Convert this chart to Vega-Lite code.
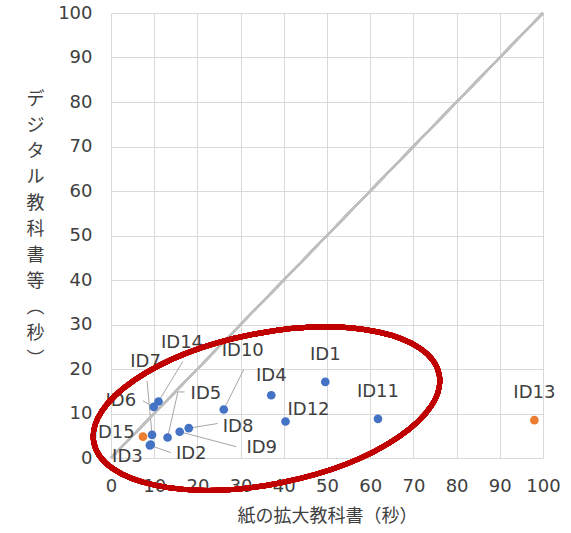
{
  "$schema": "https://vega.github.io/schema/vega-lite/v6.json",
  "width": 432,
  "height": 445,
  "autosize": {"type": "none"},
  "padding": {"left": 111, "top": 13, "right": 28, "bottom": 75},
  "background": "white",
  "config": {
    "view": {"stroke": null},
    "font": "DejaVu Sans, Noto Sans CJK JP",
    "axis": {
      "grid": true,
      "gridColor": "#D9D9D9",
      "gridWidth": 1,
      "domain": false,
      "ticks": false,
      "tickSize": 0,
      "labelFlush": false,
      "labelOverlap": false,
      "labelFont": "DejaVu Sans, Noto Sans CJK JP",
      "labelFontSize": 18,
      "labelColor": "#404040",
      "titleFont": "DejaVu Sans, Noto Sans CJK JP",
      "titleFontSize": 18,
      "titleColor": "#404040",
      "titleFontWeight": "normal"
    },
    "text": {"font": "DejaVu Sans, Noto Sans CJK JP", "fontSize": 18, "color": "#404040", "baseline": "middle"}
  },
  "data": {
    "values": [
      {"id": "ID1", "paper": 49.6, "digital": 17.1, "series": "A"},
      {"id": "ID2", "paper": 9.0, "digital": 2.85, "series": "A"},
      {"id": "ID3", "paper": 9.2, "digital": 3.0, "series": "A"},
      {"id": "ID4", "paper": 37.1, "digital": 14.1, "series": "A"},
      {"id": "ID5", "paper": 13.1, "digital": 4.6, "series": "A"},
      {"id": "ID6", "paper": 9.9, "digital": 11.5, "series": "A"},
      {"id": "ID7", "paper": 9.5, "digital": 5.2, "series": "A"},
      {"id": "ID8", "paper": 18.0, "digital": 6.7, "series": "A"},
      {"id": "ID9", "paper": 15.9, "digital": 5.9, "series": "A"},
      {"id": "ID10", "paper": 26.1, "digital": 10.9, "series": "A"},
      {"id": "ID11", "paper": 61.8, "digital": 8.8, "series": "A"},
      {"id": "ID12", "paper": 40.4, "digital": 8.2, "series": "A"},
      {"id": "ID13", "paper": 98.0, "digital": 8.5, "series": "B"},
      {"id": "ID14", "paper": 11.0, "digital": 12.7, "series": "A"},
      {"id": "ID15", "paper": 7.4, "digital": 4.8, "series": "B"}
    ]
  },
  "encoding": {
    "x": {
      "field": "paper", "type": "quantitative",
      "scale": {"domain": [0, 100], "nice": false},
      "axis": {"values": [0,10,20,30,40,50,60,70,80,90,100], "labelPadding": 19, "title": "紙の拡大教科書（秒）", "titlePadding": 12}
    },
    "y": {
      "field": "digital", "type": "quantitative",
      "scale": {"domain": [0, 100], "nice": false},
      "axis": {
        "values": [0,10,20,30,40,50,60,70,80,90,100],
        "labelPadding": 19,
        "title": ["デ","ジ","タ","ル","教","科","書","等","︵","秒","︶"],
        "titleAngle": 0,
        "titleAlign": "center",
        "titleBaseline": "middle",
        "titleLineHeight": 26,
        "titleX": -76,
        "titleY": 86
      }
    }
  },
  "layer": [
    {"transform": [{"filter": "datum.id === 'ID10'"}], "mark": {"type": "rule", "color": "#A6A6A6", "strokeWidth": 1, "x2Offset": 20, "y2Offset": -40}, "encoding": {"x2": {"field": "paper"}, "y2": {"field": "digital"}}},
    {"transform": [{"filter": "datum.id === 'ID8'"}], "mark": {"type": "rule", "color": "#A6A6A6", "strokeWidth": 1, "x2Offset": 29, "y2Offset": -4.7}, "encoding": {"x2": {"field": "paper"}, "y2": {"field": "digital"}}},
    {"transform": [{"filter": "datum.id === 'ID9'"}], "mark": {"type": "rule", "color": "#A6A6A6", "strokeWidth": 1, "x2Offset": 56.7, "y2Offset": 15}, "encoding": {"x2": {"field": "paper"}, "y2": {"field": "digital"}}},
    {"transform": [{"filter": "datum.id === 'ID2'"}], "mark": {"type": "rule", "color": "#A6A6A6", "strokeWidth": 1, "x2Offset": 21, "y2Offset": 7.3}, "encoding": {"x2": {"field": "paper"}, "y2": {"field": "digital"}}},
    {"transform": [{"filter": "datum.id === 'ID5'"}], "mark": {"type": "rule", "color": "#A6A6A6", "strokeWidth": 1, "x2Offset": 10.3, "y2Offset": -45.6}, "encoding": {"x2": {"field": "paper"}, "y2": {"field": "digital"}}},
    {"transform": [{"filter": "datum.id === 'ID5'"}], "mark": {"type": "rule", "color": "#A6A6A6", "strokeWidth": 1, "xOffset": 10.3, "yOffset": -45.6, "x2Offset": 17, "y2Offset": -45.6}, "encoding": {"x2": {"field": "paper"}, "y2": {"field": "digital"}}},
    {"transform": [{"filter": "datum.id === 'ID6'"}], "mark": {"type": "rule", "color": "#A6A6A6", "strokeWidth": 1, "x2Offset": -11, "y2Offset": -6}, "encoding": {"x2": {"field": "paper"}, "y2": {"field": "digital"}}},
    {"transform": [{"filter": "datum.id === 'ID7'"}], "mark": {"type": "rule", "color": "#A6A6A6", "strokeWidth": 1, "x2Offset": -5, "y2Offset": -54}, "encoding": {"x2": {"field": "paper"}, "y2": {"field": "digital"}}},
    {"transform": [{"filter": "datum.id === 'ID14'"}], "mark": {"type": "rule", "color": "#A6A6A6", "strokeWidth": 1, "x2Offset": 24.3, "y2Offset": -40}, "encoding": {"x2": {"field": "paper"}, "y2": {"field": "digital"}}},
    {
      "mark": {"type": "rule", "color": "#BFBFBF", "strokeWidth": 2},
      "encoding": {"x": {"datum": 0}, "y": {"datum": 0}, "x2": {"datum": 100}, "y2": {"datum": 100}}
    },
    {
      "mark": {"type": "circle", "size": 75, "opacity": 1},
      "encoding": {
        "color": {"field": "series", "type": "nominal", "scale": {"domain": ["A", "B"], "range": ["#4472C4", "#ED7D31"]}, "legend": null}
      }
    },
    {"transform": [{"filter": "datum.id === 'ID1' || datum.id === 'ID11' || datum.id === 'ID13'"}], "mark": {"type": "text", "align": "center", "dy": -27}, "encoding": {"text": {"field": "id"}}},
    {"transform": [{"filter": "datum.id === 'ID4'"}], "mark": {"type": "text", "align": "center", "dy": -19}, "encoding": {"text": {"field": "id"}}},
    {"transform": [{"filter": "datum.id === 'ID12'"}], "mark": {"type": "text", "align": "center", "dx": 23, "dy": -12}, "encoding": {"text": {"field": "id"}}},
    {"transform": [{"filter": "datum.id === 'ID10'"}], "mark": {"type": "text", "align": "center", "dx": 19, "dy": -58}, "encoding": {"text": {"field": "id"}}},
    {"transform": [{"filter": "datum.id === 'ID14'"}], "mark": {"type": "text", "align": "center", "dx": 23.5, "dy": -58.4}, "encoding": {"text": {"field": "id"}}},
    {"transform": [{"filter": "datum.id === 'ID7'"}], "mark": {"type": "text", "align": "center", "dx": -6.5, "dy": -72.6}, "encoding": {"text": {"field": "id"}}},
    {"transform": [{"filter": "datum.id === 'ID5'"}], "mark": {"type": "text", "align": "left", "dx": 23, "dy": -43.3}, "encoding": {"text": {"field": "id"}}},
    {"transform": [{"filter": "datum.id === 'ID8'"}], "mark": {"type": "text", "align": "left", "dx": 34, "dy": -1.3}, "encoding": {"text": {"field": "id"}}},
    {"transform": [{"filter": "datum.id === 'ID9'"}], "mark": {"type": "text", "align": "left", "dx": 66.7, "dy": 16.6}, "encoding": {"text": {"field": "id"}}},
    {"transform": [{"filter": "datum.id === 'ID2'"}], "mark": {"type": "text", "align": "left", "dx": 26, "dy": 9}, "encoding": {"text": {"field": "id"}}},
    {"transform": [{"filter": "datum.id === 'ID3'"}], "mark": {"type": "text", "align": "right", "dx": -8, "dy": 12.6}, "encoding": {"text": {"field": "id"}}},
    {"transform": [{"filter": "datum.id === 'ID15'"}], "mark": {"type": "text", "align": "right", "dx": -8.3, "dy": -4}, "encoding": {"text": {"field": "id"}}},
    {"transform": [{"filter": "datum.id === 'ID6'"}], "mark": {"type": "text", "align": "right", "dx": -17.6, "dy": -5.7}, "encoding": {"text": {"field": "id"}}},
    {
      "mark": {
        "type": "point",
        "shape": "M 0.8633 -0.1709 A 0.88 0.3775 -11.2 1 0 -0.8633 0.1709 A 0.88 0.3775 -11.2 1 0 0.8633 -0.1709 Z",
        "size": 160000,
        "filled": false,
        "stroke": "#C00000",
        "strokeWidth": 5,
        "opacity": 1
      },
      "encoding": {"x": {"datum": 36.0}, "y": {"datum": 11.1}}
    }
  ]
}
